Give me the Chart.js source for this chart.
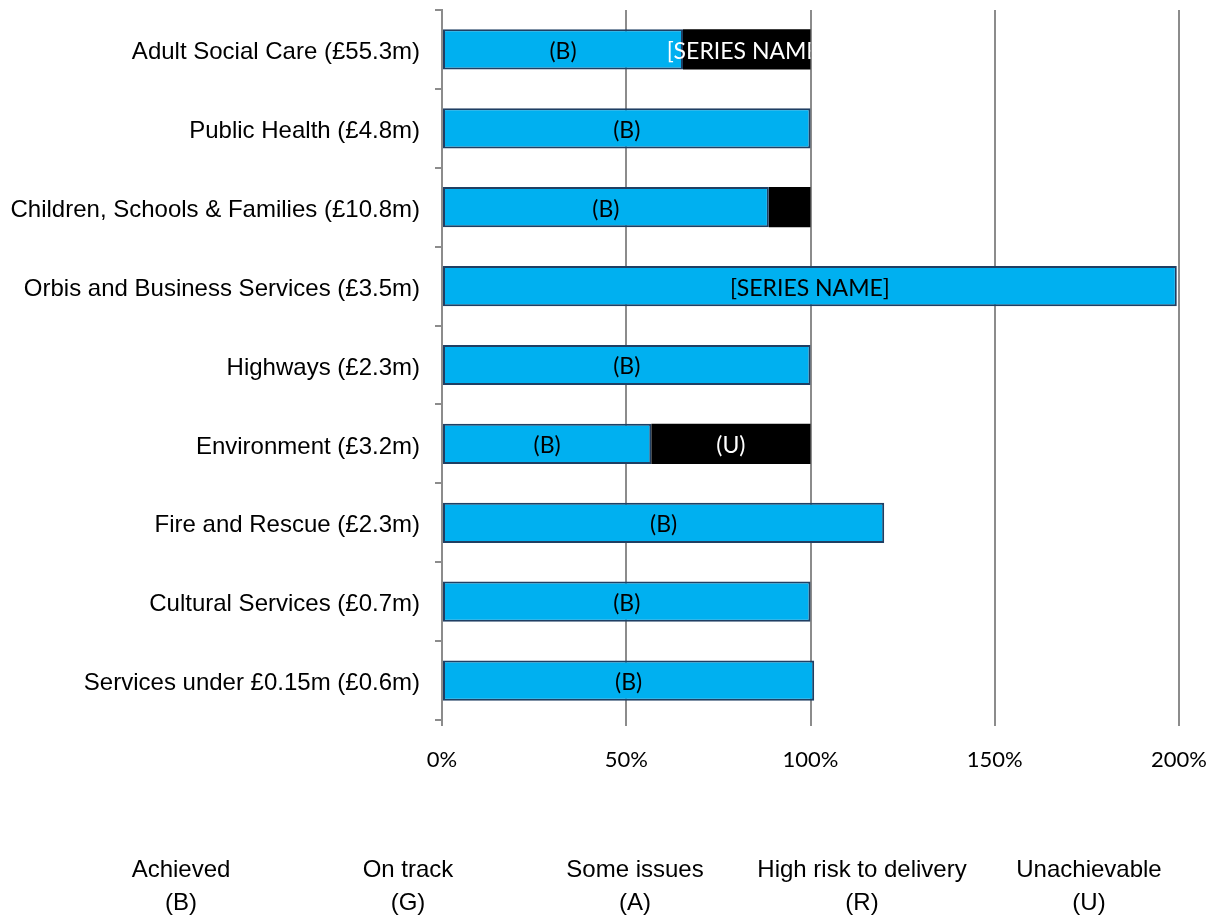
<!DOCTYPE html>
<html>
<head>
<meta charset="utf-8">
<script src="https://cdn.jsdelivr.net/npm/chart.js@4/dist/chart.umd.min.js"></script>
<style>
  html, body { margin: 0; padding: 0; background: #fff; }
  canvas { display: block; }
</style>
</head>
<body>
<canvas id="savings" width="1219" height="917"></canvas>
<script>
// service areas, top to bottom
const services = [
  "Adult Social Care (£55.3m)",
  "Public Health (£4.8m)",
  "Children, Schools & Families (£10.8m)",
  "Orbis and Business Services (£3.5m)",
  "Highways (£2.3m)",
  "Environment (£3.2m)",
  "Fire and Rescue (£2.3m)",
  "Cultural Services (£0.7m)",
  "Services under £0.15m (£0.6m)",
];

// share of savings target in each RAG status, in %
const achieved = [65.4, 100, 88.7, 199.4, 100, 56.8, 120, 100, 101];
const onTrack = [0, 0, 0, 0, 0, 0, 0, 0, 0];
const someIssues = [0, 0, 0, 0, 0, 0, 0, 0, 0];
const highRisk = [0, 0, 0, 0, 0, 0, 0, 0, 0];
const unachievable = [34.6, 0, 11.3, 0, 0, 43.2, 0, 0, 0];

// text shown inside each segment
const achievedLabels = ["(B)", "(B)", "(B)", "[SERIES NAME]", "(B)", "(B)", "(B)", "(B)", "(B)"];
const unachievableLabels = ["[SERIES NAME]", "", "", "", "", "(U)", "", "", ""];

const statusNames = ["Achieved", "On track", "Some issues", "High risk to delivery", "Unachievable"];
const statusCodes = ["(B)", "(G)", "(A)", "(R)", "(U)"];

const xTicks = [0, 50, 100, 150, 200];

const axisFont = { family: "'Liberation Sans', Arial, sans-serif", size: 24 };
const tickFont = { family: "Lato, 'Open Sans', sans-serif", size: 22 };
const valueFont = { family: "Lato, 'Open Sans', sans-serif", size: 23 };

// draws the text inside the bar segments
const segmentText = {
  id: "segmentText",
  afterDatasetsDraw(chart) {
    const ctx = chart.ctx;
    chart.data.datasets.forEach((ds, di) => {
      if (!ds.segmentLabels) return;
      const meta = chart.getDatasetMeta(di);
      meta.data.forEach((bar, i) => {
        const text = ds.segmentLabels[i];
        if (!text) return;
        const left = Math.min(bar.x, bar.base);
        const right = Math.max(bar.x, bar.base);
        ctx.save();
        ctx.beginPath();
        ctx.rect(0, bar.y - bar.height / 2, right, bar.height);
        ctx.clip();
        ctx.font = valueFont.size + "px " + valueFont.family;
        ctx.fillStyle = ds.labelColor;
        ctx.textAlign = "center";
        ctx.textBaseline = "middle";
        ctx.fillText(text, (left + right) / 2, bar.y + 2);
        ctx.restore();
      });
    });
  },
};

// legend is text only, two lines per status
const textLegend = {
  id: "textLegend",
  afterDraw(chart) {
    const ctx = chart.ctx;
    ctx.save();
    ctx.font = axisFont.size + "px " + axisFont.family;
    ctx.fillStyle = "#000";
    ctx.textAlign = "center";
    ctx.textBaseline = "middle";
    statusNames.forEach((name, i) => {
      const cx = 181 + i * 227;
      ctx.fillText(name, cx, 870);
      ctx.fillText(statusCodes[i], cx, 903);
    });
    ctx.restore();
  },
};

const ctx = document.getElementById("savings");

new Chart(ctx, {
  type: "bar",
  data: {
    labels: services,
    datasets: [
      {
        label: "Achieved (B)",
        data: achieved,
        backgroundColor: "#00B0F0",
        borderColor: "#1F3F63",
        borderWidth: 2,
        borderSkipped: false,
        segmentLabels: achievedLabels,
        labelColor: "#000",
      },
      { label: "On track (G)", data: onTrack, backgroundColor: "#00B050" },
      { label: "Some issues (A)", data: someIssues, backgroundColor: "#FFC000" },
      { label: "High risk to delivery (R)", data: highRisk, backgroundColor: "#FF0000" },
      {
        label: "Unachievable (U)",
        data: unachievable,
        backgroundColor: "#000000",
        borderWidth: 0,
        segmentLabels: unachievableLabels,
        labelColor: "#fff",
      },
    ],
  },
  options: {
    indexAxis: "y",
    responsive: false,
    animation: false,
    barPercentage: 0.51,
    categoryPercentage: 1,
    layout: { padding: { top: 10, right: 40, bottom: 137, left: 0 } },
    plugins: {
      legend: { display: false },
      tooltip: { enabled: false },
    },
    scales: {
      x: {
        stacked: true,
        min: 0,
        max: 200,
        afterBuildTicks: (scale) => {
          scale.ticks = xTicks.map((v) => ({ value: v }));
        },
        ticks: {
          callback: (value) => value + "%",
          color: "#000",
          font: tickFont,
          padding: 21,
          maxRotation: 0,
        },
        grid: { color: "#8c8c8c", lineWidth: 2, tickLength: 6 },
        border: { display: false },
        afterFit: (scale) => {
          scale.height = 60;
          scale.paddingLeft = 0;
          scale.paddingRight = 0;
        },
      },
      y: {
        stacked: true,
        ticks: { color: "#000", font: axisFont, padding: 15, labelOffset: 3 },
        grid: {
          offset: true,
          drawOnChartArea: false,
          tickLength: 7,
          color: "#8c8c8c",
          lineWidth: 2,
        },
        border: { color: "#8c8c8c", width: 2 },
        afterFit: (scale) => {
          scale.width = 442;
          scale.paddingTop = 0;
          scale.paddingBottom = 0;
        },
      },
    },
  },
  plugins: [segmentText, textLegend],
});
</script>
</body>
</html>
